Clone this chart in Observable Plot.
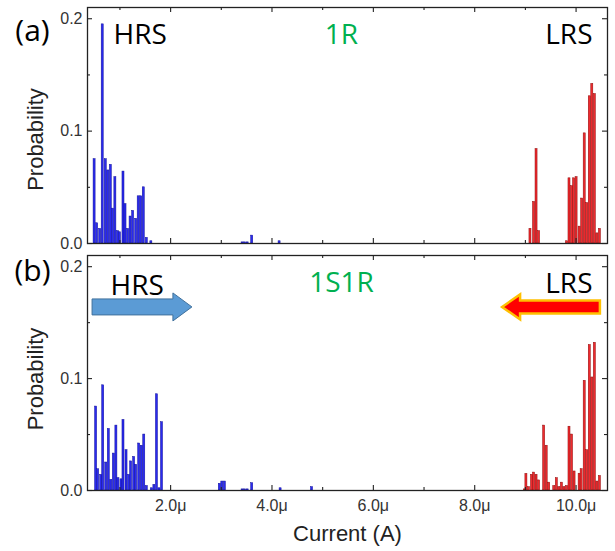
<!DOCTYPE html>
<html><head><meta charset="utf-8">
<script src="https://cdn.jsdelivr.net/npm/d3@7"></script>
<script src="https://cdn.jsdelivr.net/npm/@observablehq/plot@0.6"></script>
<style>
body{margin:0;background:#fff;}
#chart{position:relative;width:615px;height:551px;background:#fff;}
#chart svg{position:absolute;left:0;display:block;}
</style></head><body><div id="chart"></div>
<script>
// ---- axes ----
const xDomain = [0.36, 10.62];
const yDomain = [0, 0.21];
const xTicksMajor = [2, 4, 6, 8, 10];
const xTicksMinor = [1, 3, 5, 7, 9];
const xTickLabels = ["2.0μ", "4.0μ", "6.0μ", "8.0μ", "10.0μ"];
const yTicksMajor = [0, 0.1, 0.2];
const yTicksMinor = [0.05, 0.15];
const yTickLabels = ["0.0", "0.1", "0.2"];
const xTitle = "Current (A)";
const yTitle = "Probability";

// ---- panel (a) 1R ----
const hrs1R_x = [0.50, 0.55, 0.61, 0.66, 0.72, 0.77, 0.82, 0.86, 0.91, 0.96, 1.00, 1.07, 1.11, 1.16, 1.21, 1.26, 1.32, 1.37, 1.42, 1.47, 1.53, 1.62, 3.42, 3.47, 3.52, 3.61, 4.15];
const hrs1R_p = [0.075, 0.018, 0.013, 0.195, 0.075, 0.065, 0.070, 0.031, 0.059, 0.011, 0.010, 0.064, 0.035, 0.013, 0.024, 0.029, 0.022, 0.042, 0.042, 0.050, 0.005, 0.002, 0.001, 0.001, 0.001, 0.007, 0.002];
const lrs1R_x = [9.10, 9.17, 9.22, 9.27, 9.82, 9.87, 9.92, 9.96, 10.01, 10.07, 10.12, 10.17, 10.22, 10.27, 10.32, 10.37, 10.42, 10.47];
const lrs1R_p = [0.013, 0.037, 0.084, 0.011, 0.002, 0.058, 0.051, 0.058, 0.059, 0.015, 0.040, 0.098, 0.036, 0.131, 0.142, 0.133, 0.009, 0.013];

// ---- panel (b) 1S1R ----
const hrs1S1R_x = [0.53, 0.57, 0.63, 0.67, 0.73, 0.78, 0.83, 0.88, 0.93, 0.97, 1.03, 1.07, 1.13, 1.18, 1.22, 1.28, 1.32, 1.38, 1.43, 1.48, 1.53, 1.63, 1.68, 1.73, 1.78, 1.83, 2.97, 3.02, 3.07, 3.42, 3.47, 3.52, 3.61, 4.17, 4.79];
const hrs1S1R_p = [0.075, 0.019, 0.014, 0.094, 0.025, 0.055, 0.0095, 0.033, 0.058, 0.011, 0.010, 0.063, 0.036, 0.014, 0.026, 0.030, 0.023, 0.042, 0.040, 0.050, 0.004, 0.002, 0.005, 0.086, 0.002, 0.061, 0.006, 0.008, 0.008, 0.001, 0.001, 0.001, 0.0065, 0.002, 0.003];
const lrs1S1R_x = [8.99, 9.02, 9.07, 9.13, 9.17, 9.22, 9.27, 9.37, 9.42, 9.47, 9.57, 9.62, 9.67, 9.72, 9.77, 9.82, 9.87, 9.92, 9.97, 10.07, 10.11, 10.17, 10.22, 10.27, 10.32, 10.37, 10.42, 10.47];
const lrs1S1R_p = [0.001, 0.0148, 0.003, 0.014, 0.016, 0.014, 0.009, 0.058, 0.040, 0.007, 0.004, 0.011, 0.003, 0.007, 0.003, 0.004, 0.057, 0.050, 0.017, 0.015, 0.019, 0.098, 0.036, 0.130, 0.101, 0.132, 0.008, 0.013];

// ---- annotations ----
const panelTags = ["(a)", "(b)"];
const deviceNames = ["1R", "1S1R"];
const stateNames = ["HRS", "LRS"];
// arrows in panel (b): [from, to] in current units, at probability level
const arrowFrom = [0.46, 10.48];
const arrowTo = [2.43, 8.55];
const arrowLevel = [0.1636, 0.1636];

const halfW = 0.02;
const zip = (xs, ps) => xs.map((x, i) => ({x, p: ps[i]}));
const SANS = "Liberation Sans, Arial, sans-serif";
const CAL = "Open Sans, sans-serif";

function panel({blue, red, tag, device, showX, height, marginTop, marginBottom, top, hrsDx, hrsDy, tagDy, devDy, lrsDy, probDy}) {
  const marks = [
    Plot.rect(blue, {x1: d => d.x - halfW, x2: d => d.x + halfW, y1: 0, y2: d => d.p, fill: "#2a2aee", stroke: "#10109a", strokeWidth: 0.5}),
    Plot.rect(red, {x1: d => d.x - halfW, x2: d => d.x + halfW, y1: 0, y2: d => d.p, fill: "#ee2a2e", stroke: "#8e0808", strokeWidth: 0.5}),
    Plot.frame({stroke: "#222", strokeWidth: 1.3}),
    // inward ticks: bottom / top
    Plot.ruleX(xTicksMajor, {x: d => d, y1: yDomain[0], y2: yDomain[0], insetBottom: 5, stroke: "#222", strokeWidth: 1.1}),
    Plot.ruleX(xTicksMinor, {x: d => d, y1: yDomain[0], y2: yDomain[0], insetBottom: 3, stroke: "#222", strokeWidth: 1.1}),
    Plot.ruleX(xTicksMajor, {x: d => d, y1: yDomain[1], y2: yDomain[1], insetTop: 5, stroke: "#222", strokeWidth: 1.1}),
    Plot.ruleX(xTicksMinor, {x: d => d, y1: yDomain[1], y2: yDomain[1], insetTop: 3, stroke: "#222", strokeWidth: 1.1}),
    // inward ticks: left / right
    Plot.ruleY(yTicksMajor, {y: d => d, x1: xDomain[0], x2: xDomain[0], insetLeft: 5, stroke: "#222", strokeWidth: 1.1}),
    Plot.ruleY(yTicksMinor, {y: d => d, x1: xDomain[0], x2: xDomain[0], insetLeft: 3, stroke: "#222", strokeWidth: 1.1}),
    Plot.ruleY(yTicksMajor, {y: d => d, x1: xDomain[1], x2: xDomain[1], insetRight: 5, stroke: "#222", strokeWidth: 1.1}),
    Plot.ruleY(yTicksMinor, {y: d => d, x1: xDomain[1], x2: xDomain[1], insetRight: 3, stroke: "#222", strokeWidth: 1.1}),
    // y axis labels
    Plot.axisY(yTicksMajor, {tickFormat: d => yTickLabels[yTicksMajor.indexOf(d)], tickSize: 0, tickPadding: 5, fontSize: 16, fontFamily: SANS, fill: "#333", label: null}),
    // texts
    Plot.text([yTitle], {text: d => d, frameAnchor: "left", dx: -52, dy: probDy, rotate: -90, fontSize: 22, fontFamily: SANS, fill: "#222", textAnchor: "middle", lineAnchor: "middle"}),
    Plot.text([tag], {text: d => d, frameAnchor: "top-left", dx: -55, dy: tagDy, fontSize: 30, fontFamily: CAL, fill: "#000", textAnchor: "middle", lineAnchor: "middle"}),
    Plot.text([stateNames[0]], {text: d => d, frameAnchor: "top-left", dx: hrsDx, dy: hrsDy, fontSize: 28, fontFamily: CAL, fill: "#000", textAnchor: "start", lineAnchor: "middle"}),
    Plot.text([device], {text: d => d, frameAnchor: "top", dx: -6, dy: devDy, fontSize: 28, fontFamily: CAL, fill: "#00b050", textAnchor: "middle", lineAnchor: "middle"}),
    Plot.text([stateNames[1]], {text: d => d, frameAnchor: "top-right", dx: -15, dy: lrsDy, fontSize: 28, fontFamily: CAL, fill: "#000", textAnchor: "end", lineAnchor: "middle"})
  ];
  if (showX) {
    marks.push(Plot.axisX(xTicksMajor, {tickFormat: d => xTickLabels[xTicksMajor.indexOf(d)], tickSize: 0, tickPadding: 9, fontSize: 16, fontFamily: SANS, fill: "#333", label: null}));
    marks.push(Plot.text([xTitle], {text: d => d, frameAnchor: "bottom", dy: 43, fontSize: 22, fontFamily: SANS, fill: "#222", textAnchor: "middle", lineAnchor: "middle"}));
  }
  const xOpts = {domain: xDomain, label: null};
  if (!showX) xOpts.axis = null;
  const svg = Plot.plot({
    width: 615, height, marginLeft: 87, marginRight: 8, marginTop, marginBottom,
    style: {fontFamily: SANS, color: "#222", background: "transparent", overflow: "visible"},
    x: xOpts,
    y: {domain: yDomain, label: null},
    marks
  });
  svg.style.top = top + "px";
  document.getElementById("chart").appendChild(svg);
  return svg;
}

panel({blue: zip(hrs1R_x, hrs1R_p), red: zip(lrs1R_x, lrs1R_p), tag: panelTags[0], device: deviceNames[0], showX: false,
  height: 250, marginTop: 7, marginBottom: 7, top: 0, hrsDx: 26, hrsDy: 28, tagDy: 24, devDy: 28, lrsDy: 28, probDy: 14});

const svgB = panel({blue: zip(hrs1S1R_x, hrs1S1R_p), red: zip(lrs1S1R_x, lrs1S1R_p), tag: panelTags[1], device: deviceNames[1], showX: true,
  height: 301, marginTop: 5, marginBottom: 61, top: 250, hrsDx: 23, hrsDy: 31, tagDy: 16, devDy: 28, lrsDy: 29, probDy: 6});

// block arrows in panel (b), positioned through the plot's scales
const xs = svgB.scale("x"), ys = svgB.scale("y");
const sx = d3.scaleLinear(xs.domain, xs.range);
const sy = d3.scaleLinear(ys.domain, ys.range);
const arrowStyles = [
  {fill: "#5b9bd5", stroke: "#41719c", sw: 1, shaft: 8, head: 14, headLen: 19},
  {fill: "#ff0000", stroke: "#ffc000", sw: 2.5, shaft: 6.5, head: 12.5, headLen: 18}
];
arrowFrom.forEach((f, i) => {
  const s = arrowStyles[i];
  const x1 = sx(f), x2 = sx(arrowTo[i]), y = sy(arrowLevel[i]);
  const dir = Math.sign(x2 - x1);
  const hb = x2 - dir * s.headLen;
  const pts = [[x1, y - s.shaft], [hb, y - s.shaft], [hb, y - s.head], [x2, y], [hb, y + s.head], [hb, y + s.shaft], [x1, y + s.shaft]];
  d3.select(svgB).append("polygon")
    .attr("points", pts.map(p => p.join(",")).join(" "))
    .attr("fill", s.fill).attr("stroke", s.stroke).attr("stroke-width", s.sw).attr("stroke-linejoin", "miter");
});
</script></body></html>
